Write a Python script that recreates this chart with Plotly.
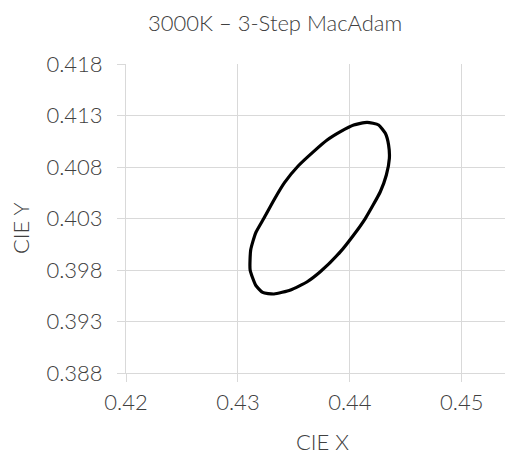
import plotly.graph_objects as go

# Ellipse outline points (CIE x, CIE y)
cie_x = [0.44154, 0.44257, 0.44317, 0.44346, 0.44353, 0.44326, 0.44272, 0.44139,
         0.44034, 0.43916, 0.43738, 0.43619, 0.43470, 0.43322, 0.43221, 0.43158,
         0.43109, 0.43114, 0.43158, 0.43232, 0.43322, 0.43416, 0.43540, 0.43678,
         0.43797, 0.43916, 0.44034, 0.44154]
cie_y = [0.41234, 0.41208, 0.41127, 0.41014, 0.40884, 0.40722, 0.40560, 0.40302,
         0.40140, 0.39978, 0.39785, 0.39686, 0.39606, 0.39567, 0.39582, 0.39654,
         0.39800, 0.39994, 0.40159, 0.40302, 0.40480, 0.40648, 0.40812, 0.40952,
         0.41062, 0.41143, 0.41208, 0.41234]

x_ticks = [0.42, 0.43, 0.44, 0.45]
x_tick_labels = ["0.42", "0.43", "0.44", "0.45"]
y_ticks = [0.388, 0.393, 0.398, 0.403, 0.408, 0.413, 0.418]
y_tick_labels = ["0.388", "0.393", "0.398", "0.403", "0.408", "0.413", "0.418"]

title_text = "3000K – 3-Step MacAdam"
x_title = "CIE X"
y_title = "CIE Y"

FONT = "Lato"
GRID = "#d9d9d9"
TXT = "#404040"
FS = 22

# page body has an 8px margin; plot area in figure coords: x 118..505, y 56..365
L, T, PW, PH = 118, 56, 387, 309

fig = go.Figure()
fig.add_trace(go.Scatter(
    x=cie_x, y=cie_y, mode="lines",
    line=dict(color="#000000", width=3.2, shape="spline", smoothing=0.5),
    hoverinfo="skip", showlegend=False,
))

tf = dict(family=FONT, size=FS, color=TXT, weight=300)

fig.update_layout(
    width=505, height=447,
    margin=dict(l=L, r=0, t=T, b=447 - T - PH, pad=0),
    paper_bgcolor="white", plot_bgcolor="white",
    font=tf,
    showlegend=False,
    annotations=[
        dict(text=title_text, xref="paper", yref="paper",
             x=(267 - L) / PW, y=1 + (T - 14) / PH,
             xanchor="center", yanchor="middle", showarrow=False, font=tf),
        dict(text=x_title, xref="paper", yref="paper",
             x=(314 - L) / PW, y=-(434 - (T + PH)) / PH,
             xanchor="center", yanchor="middle", showarrow=False, font=tf),
        dict(text=y_title, xref="paper", yref="paper",
             x=-(L - 12) / PW, y=((T + PH) - 220) / PH,
             xanchor="center", yanchor="middle", showarrow=False, textangle=-90,
             font=tf),
    ],
)

fig.update_xaxes(
    range=[0.42, 0.42 + 388 / 11222], tickvals=x_ticks, ticktext=x_tick_labels,
    showgrid=True, gridcolor=GRID, gridwidth=1,
    showline=True, linecolor=GRID, linewidth=1,
    ticks="outside", ticklen=8, tickcolor=GRID,
    zeroline=False, tickfont=tf, ticklabelstandoff=2,
    fixedrange=True,
)
fig.update_yaxes(
    range=[0.388, 0.418], tickvals=y_ticks, ticktext=y_tick_labels,
    showgrid=True, gridcolor=GRID, gridwidth=1,
    showline=True, linecolor=GRID, linewidth=1,
    ticks="outside", ticklen=8, tickcolor=GRID,
    zeroline=False, tickfont=tf, ticklabelstandoff=10,
    fixedrange=True,
)

fig.write_html("out.html", config={"displayModeBar": False})
